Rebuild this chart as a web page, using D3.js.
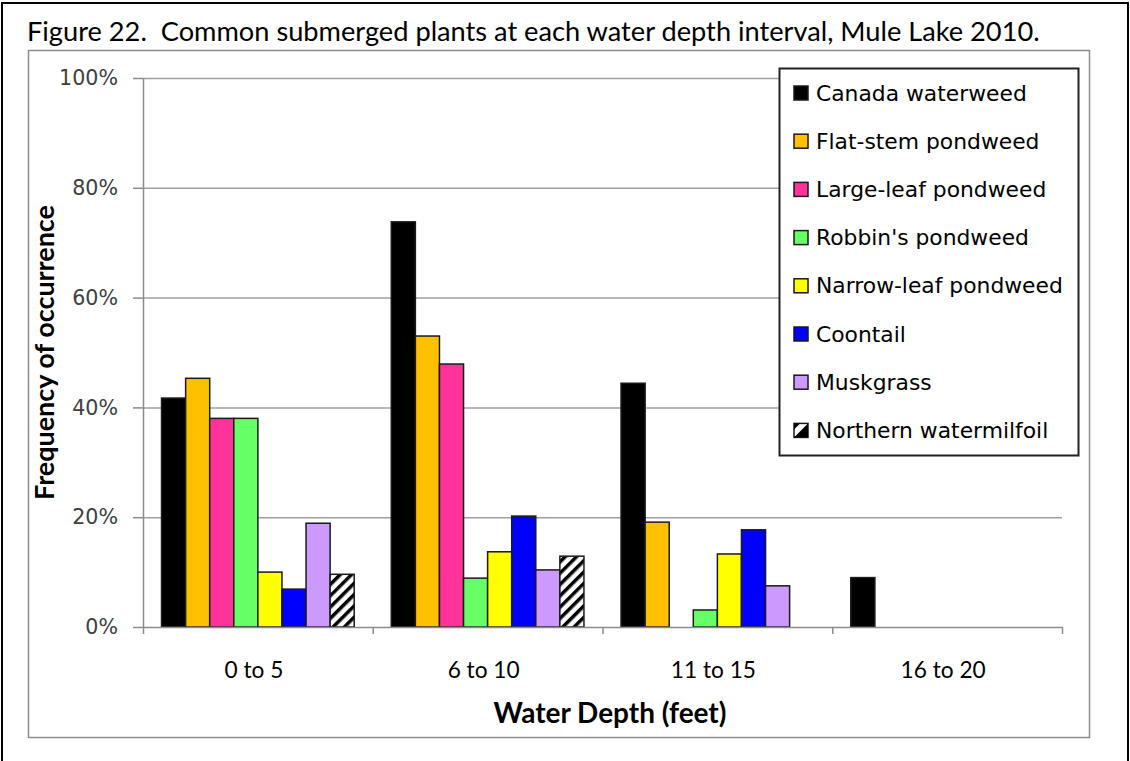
<!DOCTYPE html>
<html>
<head>
<meta charset="utf-8">
<script src="https://cdn.jsdelivr.net/npm/d3@7"></script>
<style>
  body { margin: 0; background: #fff; }
  svg { display: block; }
</style>
</head>
<body>
<div id="chart"></div>
<script>
var categories = ["0 to 5", "6 to 10", "11 to 15", "16 to 20"];
var species = ["Canada waterweed", "Flat-stem pondweed", "Large-leaf pondweed", "Robbin's pondweed",
  "Narrow-leaf pondweed", "Coontail", "Muskgrass", "Northern watermilfoil"];
var colors = ["#000000", "#ffc000", "#ff3399", "#66ff66", "#ffff00", "#0000ff", "#cc99ff", "url(#hatch)"];

// frequency of occurrence (%) per depth interval
var canada = [41.7, 73.8, 44.4, 9.0];
var flatStem = [45.3, 53.0, 19.1, 0];
var largeLeaf = [38.0, 47.9, 0, 0];
var robbins = [38.0, 8.9, 3.1, 0];
var narrowLeaf = [10.0, 13.7, 13.3, 0];
var coontail = [6.9, 20.2, 17.7, 0];
var muskgrass = [18.9, 10.4, 7.5, 0];
var northern = [9.6, 12.9, 0, 0];
var seriesValues = [canada, flatStem, largeLeaf, robbins, narrowLeaf, coontail, muskgrass, northern];
var yTicks = [0, 20, 40, 60, 80, 100];

var svgWidth = 1130;
var svgHeight = 761;
var plot = {left: 143, right: 1062, top: 78, bottom: 627};

var svg = d3.select("#chart")
  .append("svg")
  .attr("width", svgWidth)
  .attr("height", svgHeight);

// scale font so a text node spans the given width
function fontFor(node, fs, target) {
  var w = node.getComputedTextLength();
  return w > 0 ? (fs * target / w).toFixed(2) : fs;
}
function fitWidth(sel, target) {
  sel.attr("font-size", fontFor(sel.node(), parseFloat(sel.attr("font-size")), target));
}

var defs = svg.append("defs");
var pat = defs.append("pattern")
  .attr("id", "hatch")
  .attr("patternUnits", "userSpaceOnUse")
  .attr("width", 8)
  .attr("height", 8)
  .attr("patternTransform", "rotate(45)");
pat.append("rect").attr("width", 8).attr("height", 8).attr("fill", "#fff");
pat.append("rect").attr("width", 3.5).attr("height", 8).attr("fill", "#000");

// outer frame
svg.append("rect")
  .attr("x", 2).attr("y", 3)
  .attr("width", 1126).attr("height", 780)
  .attr("fill", "none")
  .attr("stroke", "#000")
  .attr("stroke-width", 2);

var title = svg.append("text")
  .attr("x", 27).attr("y", 41)
  .attr("font-family", "Lato, 'Open Sans', sans-serif")
  .attr("font-size", 24)
  .attr("fill", "#000")
  .attr("xml:space", "preserve")
  .text("Figure 22.  Common submerged plants at each water depth interval, Mule Lake 2010.");
fitWidth(title, 1013);

// chart area border
svg.append("rect")
  .attr("x", 28.5).attr("y", 50.5)
  .attr("width", 1061).attr("height", 687)
  .attr("fill", "#fff")
  .attr("stroke", "#8c8c8c")
  .attr("stroke-width", 1.5);

var x0 = d3.scaleBand().domain(categories).range([plot.left, plot.right]);
var x1 = d3.scaleBand().domain(species).range([0, x0.bandwidth()]).paddingOuter(0.77);
var y = d3.scaleLinear().domain([0, 100]).range([plot.bottom, plot.top]);
var bounds = d3.scaleLinear().domain([0, categories.length]).range([plot.left, plot.right]);

// gridlines
svg.append("g")
  .attr("transform", `translate(${plot.left},0)`)
  .call(d3.axisLeft(y).tickValues(yTicks.slice(1)).tickSize(-(plot.right - plot.left)).tickFormat(""))
  .call(g => g.select(".domain").remove())
  .call(g => g.selectAll("line").attr("stroke", "#a0a0a0").attr("stroke-width", 1.5));

// y axis
var yAxis = svg.append("g")
  .attr("transform", `translate(${plot.left},0)`)
  .call(d3.axisLeft(y).tickValues(yTicks).tickSize(10).tickSizeOuter(0).tickPadding(15)
    .tickFormat(d => d + "%"));
yAxis.select(".domain").attr("stroke", "#8c8c8c").attr("stroke-width", 1.5);
yAxis.selectAll("line").attr("stroke", "#8c8c8c").attr("stroke-width", 1.5);
var yText = yAxis.selectAll("text")
  .attr("font-family", "'DejaVu Sans', Verdana, sans-serif")
  .attr("font-size", 17)
  .attr("fill", "#404040");
yText.attr("font-size", fontFor(yText.filter(d => d === 100).node(), 17, 59));

// bars
var groups = svg.append("g").selectAll("g")
  .data(categories)
  .enter()
  .append("g")
  .attr("transform", d => `translate(${x0(d)},0)`);

groups.selectAll("rect")
  .data((c, ci) => species.map((s, si) => ({s: s, si: si, v: seriesValues[si][ci]})).filter(d => d.v > 0))
  .enter()
  .append("rect")
  .attr("x", d => x1(d.s))
  .attr("y", d => y(d.v))
  .attr("width", x1.bandwidth())
  .attr("height", d => y(0) - y(d.v))
  .attr("fill", d => colors[d.si])
  .attr("stroke", "#1a1a1a")
  .attr("stroke-width", 1.5);

// x axis: boundary ticks
var xAxis = svg.append("g")
  .attr("transform", `translate(0,${plot.bottom})`)
  .call(d3.axisBottom(bounds).ticks(categories.length).tickSize(7).tickSizeOuter(0).tickFormat(""));
xAxis.select(".domain").attr("stroke", "#8c8c8c").attr("stroke-width", 1.5);
xAxis.selectAll("line").attr("stroke", "#8c8c8c").attr("stroke-width", 1.5);

// x axis: category labels
var xLabels = svg.append("g")
  .attr("transform", `translate(-4,${plot.bottom})`)
  .call(d3.axisBottom(x0).tickSize(0).tickPadding(35));
xLabels.select(".domain").remove();
var xText = xLabels.selectAll("text")
  .attr("font-family", "Lato, 'Open Sans', sans-serif")
  .attr("font-size", 20)
  .attr("fill", "#000");
xText.attr("font-size", fontFor(xText.filter(d => d === "6 to 10").node(), 20, 72));

var xTitle = svg.append("text")
  .attr("x", 610).attr("y", 723)
  .attr("text-anchor", "middle")
  .attr("font-family", "Lato, 'Open Sans', sans-serif")
  .attr("font-weight", "bold")
  .attr("font-size", 22)
  .attr("fill", "#000")
  .text("Water Depth (feet)");
fitWidth(xTitle, 233);

var yTitle = svg.append("text")
  .attr("transform", `translate(54,${(plot.top + plot.bottom) / 2}) rotate(-90)`)
  .attr("text-anchor", "middle")
  .attr("font-family", "Lato, 'Open Sans', sans-serif")
  .attr("font-weight", "bold")
  .attr("font-size", 21)
  .attr("fill", "#000")
  .text("Frequency of occurrence");
fitWidth(yTitle, 295);

// legend
var legend = svg.append("g").attr("transform", "translate(779,68)");
legend.append("rect")
  .attr("x", 0.5).attr("y", 0.5)
  .attr("width", 299).attr("height", 387)
  .attr("fill", "#fff")
  .attr("stroke", "#222")
  .attr("stroke-width", 2);

var items = legend.selectAll("g.item")
  .data(species)
  .enter()
  .append("g")
  .attr("class", "item")
  .attr("transform", (d, i) => `translate(0,${25 + i * 48.2})`);

items.append("rect")
  .attr("x", 15).attr("y", -7)
  .attr("width", 14).attr("height", 14)
  .attr("fill", (d, i) => i === 7 ? "#fff" : colors[i])
  .attr("stroke", "#1a1a1a")
  .attr("stroke-width", 1.5);

var hatchItem = items.filter((d, i) => i === 7);
hatchItem.append("path")
  .attr("d", "M15,7 L29,-7 L29,7 Z")
  .attr("fill", "#000");
hatchItem.append("path")
  .attr("d", "M15,7 L15,-1 L21,-7 L15,-7 Z")
  .attr("fill", "#000");

var legendText = items.append("text")
  .attr("x", 37).attr("y", 0)
  .attr("dy", "0.35em")
  .attr("font-family", "'DejaVu Sans', Verdana, sans-serif")
  .attr("font-size", 18)
  .attr("fill", "#000")
  .text(d => d);
legendText.attr("font-size", fontFor(legendText.filter((d, i) => i === 4).node(), 18, 247));
</script>
</body>
</html>
